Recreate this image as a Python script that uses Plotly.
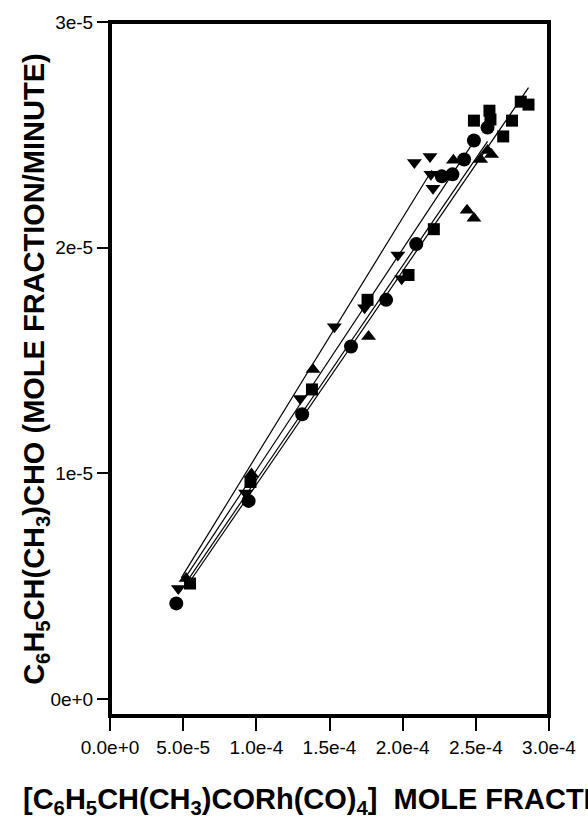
import numpy as np
import plotly.graph_objects as go

# ---- data ----
circ_x = [4.53e-5, 9.47e-5, 1.313e-4, 1.647e-4, 1.887e-4, 2.093e-4, 2.267e-4, 2.34e-4, 2.42e-4, 2.487e-4, 2.58e-4]
circ_y = [4.24e-6, 8.78e-6, 1.262e-5, 1.562e-5, 1.769e-5, 2.016e-5, 2.316e-5, 2.325e-5, 2.391e-5, 2.475e-5, 2.532e-5]

sq_x = [5.47e-5, 9.6e-5, 1.38e-4, 1.76e-4, 2.04e-4, 2.213e-4, 2.487e-4, 2.593e-4, 2.6e-4, 2.687e-4, 2.747e-4, 2.807e-4, 2.86e-4]
sq_y = [5.12e-6, 9.62e-6, 1.372e-5, 1.769e-5, 1.879e-5, 2.082e-5, 2.563e-5, 2.607e-5, 2.568e-5, 2.493e-5, 2.563e-5, 2.647e-5, 2.634e-5]

up_x = [5.2e-5, 9.67e-5, 1.387e-4, 1.767e-4, 2.347e-4, 2.44e-4, 2.487e-4, 2.533e-4, 2.58e-4, 2.607e-4]
up_y = [5.34e-6, 9.97e-6, 1.46e-5, 1.606e-5, 2.387e-5, 2.166e-5, 2.131e-5, 2.391e-5, 2.431e-5, 2.413e-5]

dn_x = [4.67e-5, 9.27e-5, 1.3e-4, 1.533e-4, 1.74e-4, 1.967e-4, 1.993e-4, 2.08e-4, 2.187e-4, 2.193e-4, 2.207e-4]
dn_y = [4.9e-6, 9.13e-6, 1.332e-5, 1.65e-5, 1.734e-5, 1.968e-5, 1.862e-5, 2.378e-5, 2.404e-5, 2.325e-5, 2.263e-5]

# regression lines: (x start, x end), (y start, y end)
fit_dn_x = [4.87e-5, 2.20e-4]
fit_dn_y = [5.37e-6, 2.343e-5]
fit_up_x = [5.0e-5, 2.487e-4]
fit_up_y = [5.24e-6, 2.471e-5]
fit_circ_x = [5.2e-5, 2.58e-4]
fit_circ_y = [5.16e-6, 2.471e-5]
fit_sq_x = [5.47e-5, 2.86e-4]
fit_sq_y = [5.22e-6, 2.709e-5]

x_tickvals = [0, 5e-5, 1e-4, 1.5e-4, 2e-4, 2.5e-4, 3e-4]
x_ticktext = ["0.0e+0", "5.0e-5", "1.0e-4", "1.5e-4", "2.0e-4", "2.5e-4", "3.0e-4"]
y_tickvals = [0, 1e-5, 2e-5, 3e-5]
y_ticktext = ["0e+0", "1e-5", "2e-5", "3e-5"]

series = [
    (circ_x, circ_y, "circle", 14),
    (sq_x, sq_y, "square", 12),
    (up_x, up_y, "triangle-up", 13),
    (dn_x, dn_y, "triangle-down", 13),
]
fits = [(fit_dn_x, fit_dn_y), (fit_up_x, fit_up_y), (fit_circ_x, fit_circ_y), (fit_sq_x, fit_sq_y)]

fig = go.Figure()
FONT = "Liberation Sans, Arial, sans-serif"

for fx, fy in fits:
    fig.add_trace(go.Scatter(x=fx, y=fy, mode="lines",
                             line=dict(color="black", width=1.2),
                             showlegend=False, hoverinfo="skip"))
for xs, ys, sym, sz in series:
    fig.add_trace(go.Scatter(x=xs, y=ys, mode="markers",
                             marker=dict(symbol=sym, size=sz, color="black",
                                         line=dict(width=0)),
                             showlegend=False))

fig.update_layout(
    width=588, height=821,
    margin=dict(l=110, r=28, t=19, b=105),
    paper_bgcolor="white", plot_bgcolor="white",
    font=dict(family=FONT, size=19, color="black"),
    xaxis=dict(range=[0, 3e-4], tickvals=x_tickvals, ticktext=x_ticktext,
               showgrid=False, zeroline=False, showline=False,
               ticks="outside", ticklen=14, tickwidth=2, tickcolor="black",
               tickfont=dict(size=19)),
    yaxis=dict(range=[-7.5e-7, 3e-5], tickvals=y_tickvals, ticktext=y_ticktext,
               showgrid=False, zeroline=False, showline=False,
               ticks="outside", ticklen=12, tickwidth=2, tickcolor="black",
               tickfont=dict(size=19)),
    shapes=[dict(type="rect", xref="paper", yref="paper", x0=0, y0=0, x1=1, y1=1,
                 line=dict(color="black", width=4))],
    annotations=[
        dict(text="C<sub>6</sub>H<sub>5</sub>CH(CH<sub>3</sub>)CHO (MOLE FRACTION/MINUTE)",
             xref="paper", yref="paper", x=(34 - 110) / 450, y=0.5,
             xanchor="center", yanchor="middle", textangle=-90, showarrow=False,
             font=dict(family=FONT, size=29, color="black", weight="bold")),
        dict(text="[C<sub>6</sub>H<sub>5</sub>CH(CH<sub>3</sub>)CORh(CO)<sub>4</sub>]  MOLE FRACTION",
             xref="paper", yref="paper", x=(19 - 110) / 450, y=(716 - 801) / 697,
             xanchor="left", yanchor="middle", showarrow=False,
             font=dict(family=FONT, size=29, color="black", weight="bold")),
    ],
)

fig.write_html("out.html", config={"displayModeBar": False},
               post_script="document.body.style.margin='0';")
